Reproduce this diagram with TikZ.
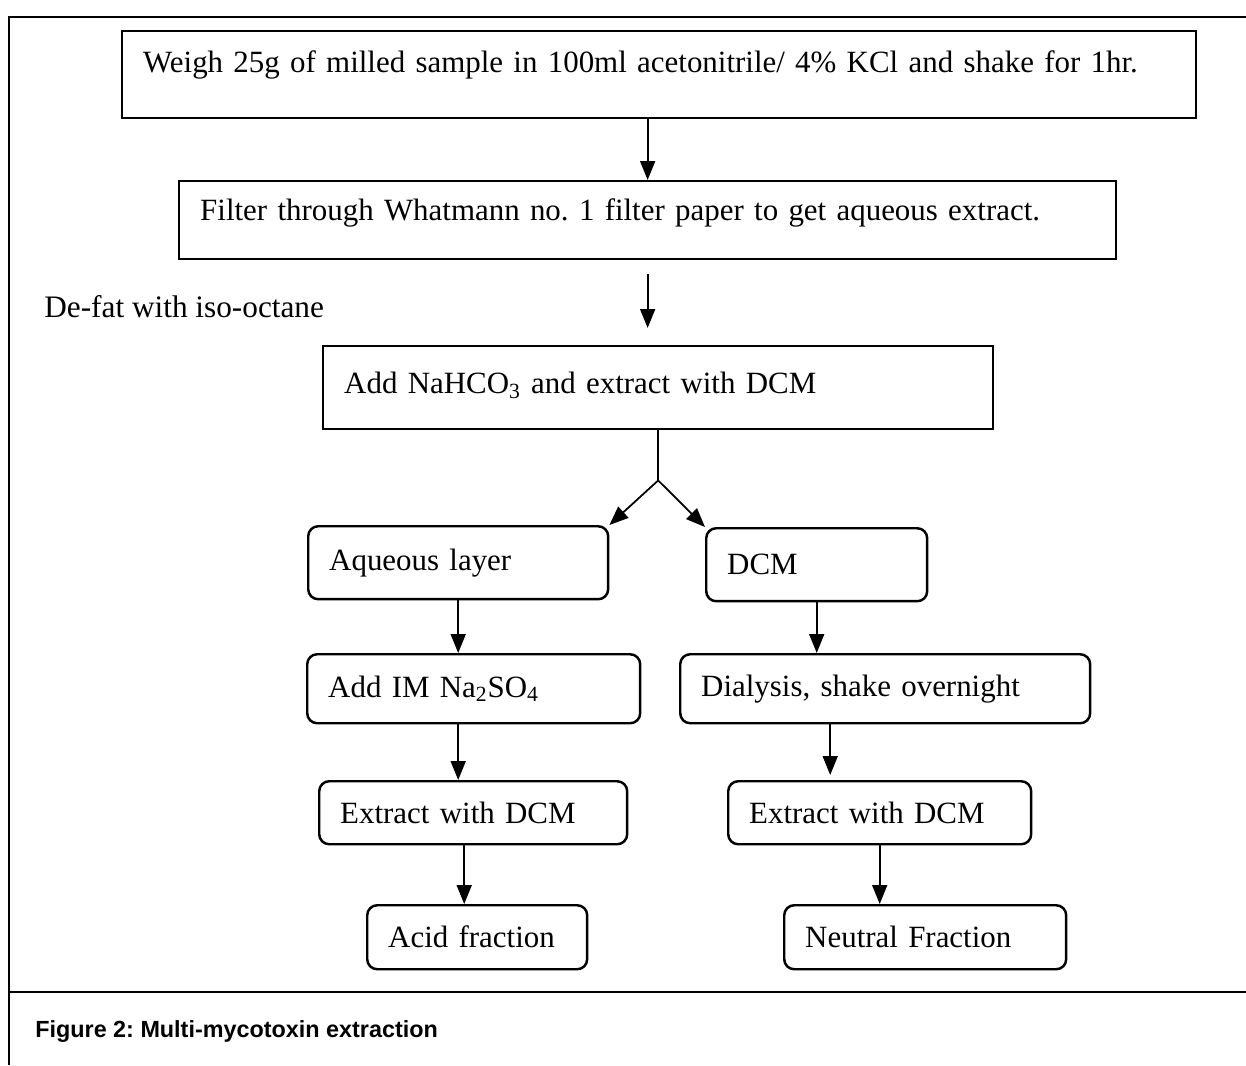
\documentclass[tikz,border=0pt]{standalone}
\usepackage{fontspec}
\setmainfont{Liberation Serif}
\newfontfamily\capfont{Liberation Sans}
\usetikzlibrary{positioning,arrows.meta}
\frenchspacing

\begin{document}
\begin{tikzpicture}[x=0.02cm,y=-0.02cm,
    stepbox/.style={rectangle,draw,line width=1.4pt,inner xsep=0.42cm,inner ysep=0.05cm,align=left,anchor=north west,font=\fontsize{17.6}{21}\selectfont},
    roundbox/.style={stepbox,rounded corners=0.2cm},
    arr/.style={-{Triangle[length=0.38cm,width=0.3cm]},line width=1pt}
    ]

    \useasboundingbox (0,0) rectangle (1246,1065);

    \draw[line width=0.8pt] (9,1065) -- (9,17) -- (1246,17);
    \draw[line width=0.8pt] (9,992) -- (1246,992);

    \node (weigh) [stepbox,text width=20.64cm,minimum height=1.74cm,text depth=0.52cm] at (121,30) {Weigh 25g of milled sample in 100ml acetonitrile/ 4\% KCl and shake for 1hr.};
    \node (filter) [stepbox,text width=17.9cm,minimum height=1.56cm,text depth=0.44cm] at (178,180) {Filter through Whatmann no. 1 filter paper to get aqueous extract.};
    \node (defat) [anchor=west,inner sep=0pt,font=\fontsize{17.8}{21}\selectfont] at (44,307) {De-fat with iso-octane};
    \node (nahco) [stepbox,text width=12.56cm,minimum height=1.66cm,text depth=0.2cm] at (322,345) {Add NaHCO\textsubscript{3} and extract with DCM};

    \node (aqueous) [roundbox,text width=5.16cm,minimum height=1.46cm] at (307,525) {Aqueous layer};
    \node (na2so4) [roundbox,text width=5.82cm,minimum height=1.38cm] at (306,653) {Add IM Na\textsubscript{2}SO\textsubscript{4}};
    \node (extractl) [roundbox,text width=5.32cm,minimum height=1.26cm] at (318,780) {Extract with DCM};
    \node (acid) [roundbox,text width=3.56cm,minimum height=1.28cm] at (366,904) {Acid fraction};

    \node (dcm) [roundbox,text width=3.58cm,minimum height=1.46cm] at (705,527) {DCM};
    \node (dialysis) [roundbox,text width=7.36cm,minimum height=1.38cm] at (679,653) {Dialysis, shake overnight};
    \node (extractr) [roundbox,text width=5.22cm,minimum height=1.26cm] at (727,780) {Extract with DCM};
    \node (neutral) [roundbox,text width=4.8cm,minimum height=1.28cm] at (783,904) {Neutral Fraction};

    \node (caption) [anchor=west,inner sep=0pt,font=\capfont\bfseries\fontsize{13.3}{16}\selectfont] at (35,1031) {Figure 2: Multi-mycotoxin extraction};

    \draw[arr] (filter.north |- weigh.south) -- (filter.north);
    \draw[arr,shorten <=0.28cm,shorten >=0.34cm] (filter.south) -- (filter.south |- nahco.north);

    \coordinate (split) at ([yshift=-1cm]nahco.south);
    \draw[line width=1pt] (nahco.south) -- (split);
    \draw[arr] (split) -- (aqueous.north east);
    \draw[arr] (split) -- (dcm.north west);

    \draw[arr] (aqueous.south) -- (aqueous.south |- na2so4.north);
    \draw[arr] (na2so4.south -| aqueous.south) -- (extractl.north -| aqueous.south);
    \draw[arr] ([xshift=-0.18cm]extractl.south) -- ([xshift=-0.18cm]extractl.south |- acid.north);

    \draw[arr] (dcm.south) -- (dcm.south |- dialysis.north);
    \draw[arr,shorten >=0.1cm] ([xshift=-1.1cm]dialysis.south) -- ([xshift=-1.1cm]dialysis.south |- extractr.north);
    \draw[arr] (extractr.south) -- (extractr.south |- neutral.north);

  \end{tikzpicture}
\end{document}
